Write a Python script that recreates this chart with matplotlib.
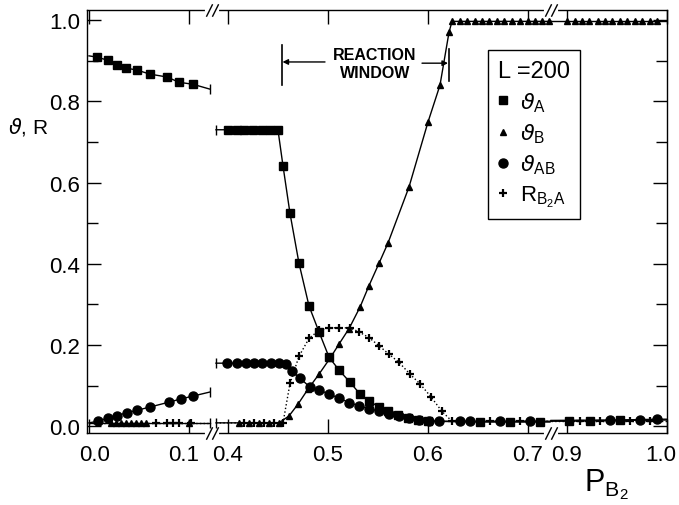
import numpy as np
import matplotlib
matplotlib.use("Agg")
import matplotlib.pyplot as plt
from matplotlib.lines import Line2D
from matplotlib.ticker import FixedLocator, MultipleLocator, NullLocator
from matplotlib.transforms import ScaledTranslation

# first and last entry of each segment = line end at the break (no marker)
THETA_A_X1 = [0.0, 0.008, 0.019, 0.028, 0.037, 0.048, 0.061, 0.078, 0.090, 0.104, 0.121]
THETA_A_Y1 = [0.912, 0.909, 0.901, 0.889, 0.882, 0.877, 0.867, 0.860, 0.847, 0.842, 0.830]
THETA_A_X2 = [0.388, 0.400, 0.409, 0.416, 0.425, 0.434, 0.442, 0.450, 0.455, 0.462, 0.471,
              0.481, 0.491, 0.501, 0.511, 0.522, 0.532, 0.541, 0.551, 0.560, 0.570, 0.580,
              0.590, 0.600, 0.652, 0.682, 0.712, 0.722]
THETA_A_Y2 = [0.730, 0.730, 0.730, 0.730, 0.730, 0.730, 0.730, 0.729, 0.641, 0.524, 0.401,
              0.296, 0.232, 0.170, 0.138, 0.108, 0.079, 0.062, 0.047, 0.037, 0.028, 0.020,
              0.015, 0.012, 0.010, 0.010, 0.010, 0.010]
THETA_A_X3 = [0.884, 0.902, 0.923, 0.953, 1.0]
THETA_A_Y3 = [0.012, 0.012, 0.013, 0.014, 0.015]

THETA_B_X1 = [0.0, 0.022, 0.027, 0.032, 0.037, 0.042, 0.047, 0.052, 0.057, 0.100, 0.121]
THETA_B_Y1 = [0.008] * 11
THETA_B_X2 = [0.388, 0.411, 0.421, 0.431, 0.441, 0.451, 0.461, 0.470, 0.480, 0.491, 0.502,
              0.511, 0.521, 0.532, 0.541, 0.551, 0.560, 0.581, 0.600, 0.612, 0.621, 0.624,
              0.632, 0.639, 0.647, 0.654, 0.661, 0.669, 0.676, 0.684, 0.692, 0.700, 0.707,
              0.714, 0.721, 0.723]
THETA_B_Y2 = [0.008] * 6 + [0.025, 0.054, 0.091, 0.128, 0.167, 0.202, 0.240, 0.293, 0.346,
                            0.401, 0.451, 0.589, 0.749, 0.840, 0.970] + [0.997] * 15
THETA_B_X3 = [0.884, 0.900, 0.908, 0.915, 0.922, 0.931, 0.938, 0.945, 0.953, 0.960, 0.968,
              0.975, 0.983, 0.990, 1.0]
THETA_B_Y3 = [0.997] * 15

THETA_AB_X1 = [0.0, 0.009, 0.019, 0.028, 0.038, 0.048, 0.061, 0.080, 0.092, 0.104, 0.121]
THETA_AB_Y1 = [0.008, 0.012, 0.020, 0.026, 0.033, 0.039, 0.047, 0.059, 0.067, 0.074, 0.084]
THETA_AB_X2 = [0.388, 0.399, 0.409, 0.418, 0.426, 0.434, 0.443, 0.451, 0.458, 0.464, 0.472,
               0.482, 0.491, 0.501, 0.511, 0.521, 0.531, 0.541, 0.551, 0.561, 0.571, 0.581,
               0.591, 0.601, 0.611, 0.632, 0.642, 0.672, 0.702, 0.723]
THETA_AB_Y2 = [0.155] * 8 + [0.153, 0.135, 0.118, 0.096, 0.089, 0.079, 0.069, 0.058, 0.050,
                             0.043, 0.037, 0.030, 0.025, 0.020, 0.016, 0.013, 0.012] + [0.012] * 5
THETA_AB_X3 = [0.884, 0.943, 0.973, 0.990, 1.0]
THETA_AB_Y3 = [0.014, 0.015, 0.016, 0.017, 0.017]

R_X1 = [0.0, 0.067, 0.078, 0.084, 0.090, 0.102, 0.121]
R_Y1 = [0.008] * 7
R_X2 = [0.388, 0.416, 0.426, 0.436, 0.446, 0.455, 0.462, 0.471, 0.481, 0.491, 0.501, 0.511,
        0.522, 0.531, 0.541, 0.551, 0.561, 0.571, 0.582, 0.592, 0.603, 0.614, 0.624, 0.662,
        0.692, 0.723]
R_Y2 = [0.008] * 6 + [0.105, 0.172, 0.216, 0.236, 0.242, 0.242, 0.242, 0.232, 0.218, 0.198,
                      0.177, 0.157, 0.128, 0.104, 0.072, 0.036] + [0.012] * 4
R_X3 = [0.884, 0.913, 0.933, 0.963, 0.983, 1.0]
R_Y3 = [0.012] * 6

XTICKS = [0.0, 0.1, 0.4, 0.5, 0.6, 0.7, 0.9, 1.0]
XTICKLABELS = ["0.0", "0.1", "0.4", "0.5", "0.6", "0.7", "0.9", "1.0"]

# broken x axis: three pieces glued together
SEG1 = (-0.002, 0.123)
SEG2 = (0.384, 0.723)
SEG3 = (0.884, 1.0)
W1 = SEG1[1] - SEG1[0]
W2 = SEG2[1] - SEG2[0]
W3 = SEG3[1] - SEG3[0]


def fwd(x):
    x = np.asarray(x, dtype=float)
    return np.where(x < 0.25, x - SEG1[0],
                    np.where(x < 0.8, x - SEG2[0] + W1, x - SEG3[0] + W1 + W2))


def inv(u):
    u = np.asarray(u, dtype=float)
    return np.where(u < W1, u + SEG1[0],
                    np.where(u < W1 + W2, u - W1 + SEG2[0], u - W1 - W2 + SEG3[0]))


plt.rcParams['font.family'] = ['Liberation Sans', 'DejaVu Sans']

fig = plt.figure(figsize=(6.79, 5.06), dpi=100)
ax = fig.add_axes([87 / 679, 72 / 506, 580 / 679, 423 / 506])
ax.set_xscale('function', functions=(fwd, inv))


def draw(xs, ys, marker, ms, ls='-', mew=1.0):
    x = np.array(xs)
    y = np.array(ys)
    ax.plot(x, y, ls=ls, color='k', lw=1.0, zorder=2)
    ax.plot(x[1:-1], y[1:-1], ls='none', marker=marker, ms=ms, mew=mew,
            color='k', zorder=3)


series = [
    ((THETA_A_X1, THETA_A_Y1), (THETA_A_X2, THETA_A_Y2), (THETA_A_X3, THETA_A_Y3), 's', 5.5, '-', 1.0),
    ((THETA_B_X1, THETA_B_Y1), (THETA_B_X2, THETA_B_Y2), (THETA_B_X3, THETA_B_Y3), '^', 5.0, '-', 1.0),
    ((THETA_AB_X1, THETA_AB_Y1), (THETA_AB_X2, THETA_AB_Y2), (THETA_AB_X3, THETA_AB_Y3), 'o', 6.5, '-', 1.0),
    ((R_X1, R_Y1), (R_X2, R_Y2), (R_X3, R_Y3), '+', 6.0, ':', 1.6),
]
for s1, s2, s3, mk, ms, ls, mew in series:
    for xs, ys in (s1, s2, s3):
        draw(xs, ys, mk, ms, ls, mew)

# little caps where the curves are cut at the breaks
for s1, s2, s3, mk, ms, ls, mew in series[:3]:
    ax.plot([s1[0][-1], s2[0][0]], [s1[1][-1], s2[1][0]], ls='none', marker='|',
            ms=7, mew=1.0, color='k', zorder=3)

ax.set_xlim(SEG1[0], SEG3[1])
ax.set_ylim(-0.017, 1.025)

ax.xaxis.set_major_locator(FixedLocator(XTICKS))
ax.set_xticklabels(XTICKLABELS)
ax.xaxis.set_minor_locator(NullLocator())
ax.yaxis.set_major_locator(MultipleLocator(0.2))
ax.yaxis.set_minor_locator(MultipleLocator(0.1))
ax.yaxis.set_major_formatter(plt.FormatStrFormatter('%.1f'))

ax.tick_params(which='both', direction='in', top=True, right=True, width=1.0,
               labelsize=16)
ax.tick_params(which='major', length=10)
ax.tick_params(which='minor', length=8)
ax.tick_params(axis='x', pad=8)
ax.tick_params(axis='y', pad=5)
for sp in ax.spines.values():
    sp.set_linewidth(1.0)

# nudge crowded x tick labels like in the original
nudges = {"0.0": 6, "0.1": -5, "1.0": -6}
for lab in ax.get_xticklabels():
    dx = nudges.get(lab.get_text(), 0)
    if dx:
        lab.set_transform(lab.get_transform() + ScaledTranslation(dx / 100, 0, fig.dpi_scale_trans))

ax.set_ylabel(r'$\vartheta$, R', fontsize=15, rotation=0)
ax.yaxis.set_label_coords(-0.102, 0.70)
ax.set_xlabel(r'$\mathregular{P_{B_2}}$', fontsize=22)
ax.xaxis.set_label_coords(0.895, -0.12)
ax.xaxis.label.set_va('center')

# axis break marks
for bx in (W1 / (W1 + W2 + W3), (W1 + W2) / (W1 + W2 + W3)):
    for by in (0, 1):
        ax.plot([bx - 0.008, bx + 0.008], [by, by], color='white', lw=3,
                transform=ax.transAxes, clip_on=False, zorder=5)
        ax.plot([bx - 0.006, bx + 0.006], [by, by], ls='none',
                marker=[(-1, -2), (1, 2)], ms=9, mew=1.0, color='k',
                transform=ax.transAxes, clip_on=False, zorder=6)

# reaction window
ax.plot([0.4537, 0.4537], [0.84, 0.94], color='k', lw=1.2)
ax.plot([0.621, 0.621], [0.85, 0.93], color='k', lw=1.2)
ax.annotate('', xy=(0.4545, 0.897), xytext=(0.497, 0.897),
            arrowprops=dict(arrowstyle='-|>', color='k', lw=1.0,
                            mutation_scale=8, shrinkA=0, shrinkB=0))
ax.annotate('', xy=(0.620, 0.894), xytext=(0.594, 0.894),
            arrowprops=dict(arrowstyle='-|>', color='k', lw=1.0,
                            mutation_scale=8, shrinkA=0, shrinkB=0))
ax.text(0.547, 0.916, 'REACTION', ha='center', va='center', fontsize=11.5,
        fontweight='bold')
ax.text(0.547, 0.870, 'WINDOW', ha='center', va='center', fontsize=11.5,
        fontweight='bold')

handles = [
    Line2D([], [], ls='none', marker='s', ms=5.5, color='k'),
    Line2D([], [], ls='none', marker='^', ms=5.0, color='k'),
    Line2D([], [], ls='none', marker='o', ms=6.5, color='k'),
    Line2D([], [], ls='none', marker='+', ms=6.0, mew=1.6, color='k'),
]
labels = [r'$\vartheta_{\mathregular{A}}$', r'$\vartheta_{\mathregular{B}}$',
          r'$\vartheta_{\mathregular{AB}}$', r'$\mathregular{R_{B_2A}}$']
leg = ax.legend(handles, labels, title='L =200', loc='upper left',
                bbox_to_anchor=(0.691, 0.905), frameon=True, fancybox=False,
                edgecolor='k', framealpha=1, fontsize=16, title_fontsize=17,
                handlelength=0.5, handletextpad=0.5, labelspacing=0.35,
                borderpad=0.45, borderaxespad=0)
leg.get_frame().set_linewidth(1.0)
leg._legend_box.align = 'left'

fig.savefig('out.png', dpi=100)
